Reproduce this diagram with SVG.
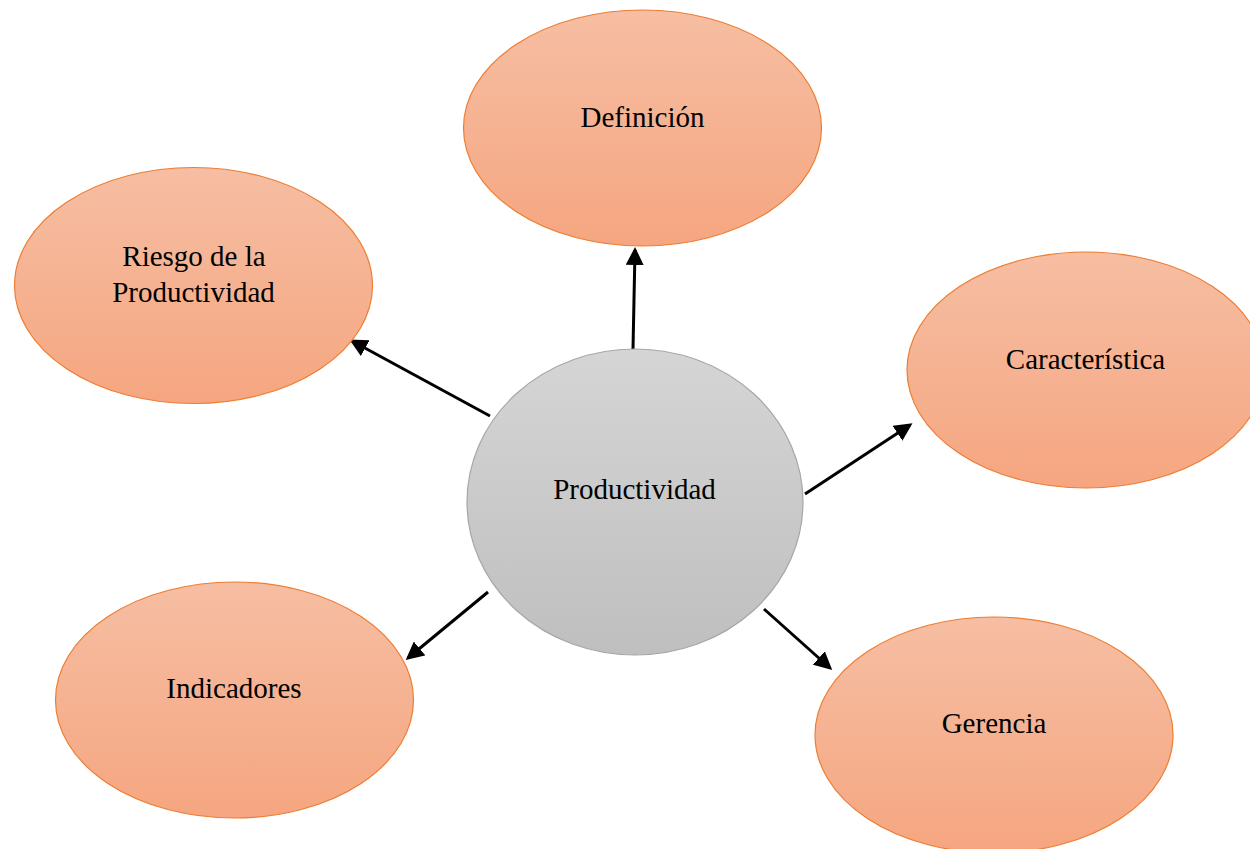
<svg xmlns="http://www.w3.org/2000/svg" width="1250" height="849" viewBox="0 0 1250 849">
  <defs>
    <linearGradient id="orangeFill" x1="0" y1="0" x2="0" y2="1">
      <stop offset="0" stop-color="#F6BEA3"/>
      <stop offset="1" stop-color="#F5A680"/>
    </linearGradient>
    <linearGradient id="grayFill" x1="0" y1="0" x2="0" y2="1">
      <stop offset="0" stop-color="#D5D5D5"/>
      <stop offset="1" stop-color="#BFBFBF"/>
    </linearGradient>
    <marker id="arrowHead" markerWidth="6" markerHeight="6" refX="5" refY="3" orient="auto" markerUnits="strokeWidth">
      <path d="M0,0 L6,3 L0,6 Z" fill="#000"/>
    </marker>
    <style>
      .leaf { fill: url(#orangeFill); stroke: #ED7D31; stroke-width: 1.2; }
      .hub { fill: url(#grayFill); stroke: #A6A6A6; stroke-width: 1.2; }
      .label { font-family: "Liberation Serif", "Times New Roman", serif; font-size: 29px; fill: #000; text-anchor: middle; }
      .conn { stroke: #000; stroke-width: 3; fill: none; marker-end: url(#arrowHead); }
    </style>
  </defs>
  <rect width="1250" height="849" fill="#fff"/>

  <g id="connectors">
    <line class="conn" x1="633" y1="349" x2="635" y2="250"/>
    <line class="conn" x1="490" y1="416" x2="352" y2="341"/>
    <line class="conn" x1="805" y1="494" x2="910" y2="425"/>
    <line class="conn" x1="488" y1="592" x2="408" y2="658"/>
    <line class="conn" x1="764" y1="609" x2="830" y2="668"/>
  </g>

  <g id="node-definicion">
    <ellipse class="leaf" cx="642.5" cy="128" rx="179" ry="118"/>
    <text class="label" x="642.5" y="127">Definición</text>
  </g>

  <g id="node-riesgo">
    <ellipse class="leaf" cx="193.5" cy="285.5" rx="179" ry="118"/>
    <text class="label" x="194" y="266">Riesgo de la</text>
    <text class="label" x="193.5" y="302">Productividad</text>
  </g>

  <g id="node-caracteristica">
    <ellipse class="leaf" cx="1086" cy="370" rx="179" ry="118"/>
    <text class="label" x="1085.5" y="369">Característica</text>
  </g>

  <g id="node-indicadores">
    <ellipse class="leaf" cx="234.5" cy="700" rx="179" ry="118"/>
    <text class="label" x="234" y="698">Indicadores</text>
  </g>

  <g id="node-gerencia">
    <ellipse class="leaf" cx="994" cy="735" rx="179" ry="118"/>
    <text class="label" x="994" y="733">Gerencia</text>
  </g>

  <g id="node-productividad">
    <ellipse class="hub" cx="635" cy="502" rx="168" ry="153"/>
    <text class="label" x="634.5" y="499">Productividad</text>
  </g>
</svg>
